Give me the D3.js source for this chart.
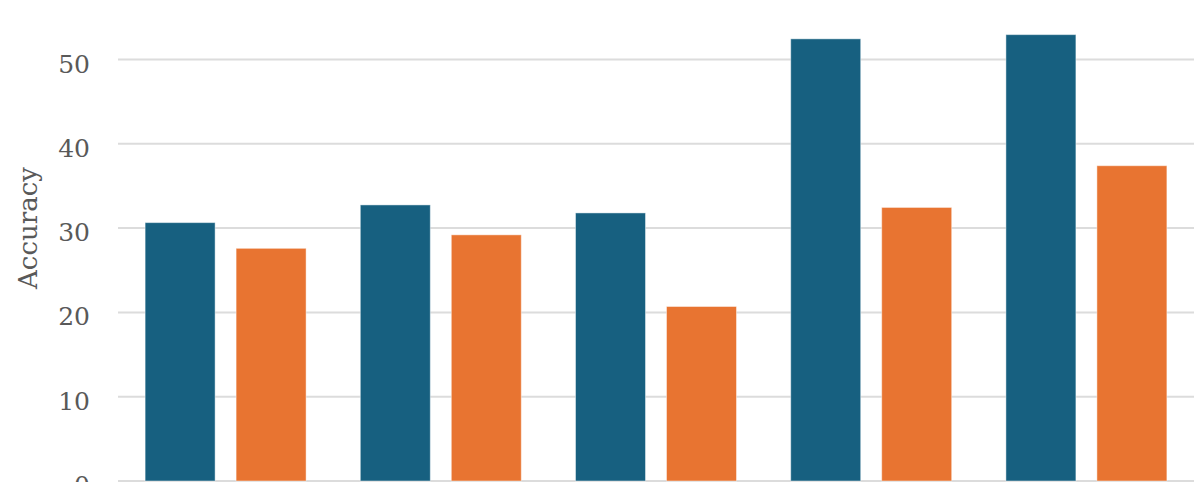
<!DOCTYPE html>
<html>
<head>
<meta charset="utf-8">
<script src="https://cdn.jsdelivr.net/npm/d3@7"></script>
<style>
  html, body { margin: 0; padding: 0; background: #fff; overflow: hidden; }
  svg { display: block; }
</style>
</head>
<body>
<svg id="chart" width="1196" height="482"></svg>
<script>
const categories = ["G1", "G2", "G3", "G4", "G5"];
const seriesNames = ["Series A", "Series B"];
const seriesA = [30.65, 32.75, 31.8, 52.45, 52.95];
const seriesB = [27.6, 29.2, 20.7, 32.45, 37.4];
const yTicks = [0, 10, 20, 30, 40, 50];
const colors = ["#176080", "#e87431"];

const svg = d3.select("#chart");
const left = 118, right = 1194;

const x0 = d3.scaleBand().domain(categories).range([left, right]).padding(0);
const x1 = d3.scaleBand().domain(seriesNames).range([0, x0.bandwidth()])
  .paddingInner(0.2308).paddingOuter(0.298);
const y = d3.scaleLinear().domain([0, 50]).range([481, 59.5]);

// gridlines
svg.append("g").selectAll("line").data(yTicks).join("line")
  .attr("x1", left).attr("x2", right)
  .attr("y1", d => y(d)).attr("y2", d => y(d))
  .attr("stroke", "#dcdcdc").attr("stroke-width", 2);

// tick labels via axis
const yAxis = d3.axisLeft(y).tickValues(yTicks).tickSize(0).tickPadding(0);
const ax = svg.append("g").attr("transform", `translate(90,0)`).call(yAxis);
ax.select(".domain").remove();
ax.selectAll("text")
  .attr("font-family", "'DejaVu Serif', serif")
  .attr("font-size", 25)
  .attr("fill", "#595959")
  .attr("dy", "0.5em");

// y label
svg.append("text")
  .attr("transform", `translate(37,228) rotate(-90)`)
  .attr("text-anchor", "middle")
  .attr("font-family", "'DejaVu Serif', serif")
  .attr("font-size", 26)
  .attr("fill", "#595959")
  .text("Accuracy");

// bars
const data = categories.map((c, i) => ({ cat: c, vals: [seriesA[i], seriesB[i]] }));
const groups = svg.append("g").selectAll("g").data(data).join("g")
  .attr("transform", d => `translate(${x0(d.cat)},0)`);
groups.selectAll("rect")
  .data(d => d.vals.map((v, j) => ({ key: seriesNames[j], v, j })))
  .join("rect")
  .attr("x", d => x1(d.key))
  .attr("width", x1.bandwidth())
  .attr("y", d => y(d.v))
  .attr("height", d => y(0) - y(d.v))
  .attr("fill", d => colors[d.j])
  .attr("stroke", "rgba(255,255,255,0.45)")
  .attr("stroke-width", 1);
</script>
</body>
</html>
